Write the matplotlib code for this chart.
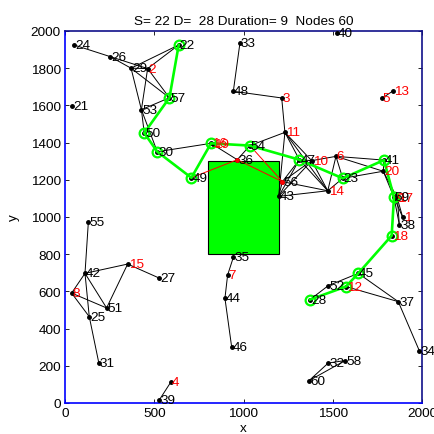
import matplotlib
matplotlib.use("Agg")
import matplotlib.pyplot as plt
from matplotlib.patches import Rectangle

plt.rcParams['font.family'] = ['Liberation Sans', 'DejaVu Sans']

node_ids = list(range(1, 61))
node_x = [1892, 463, 1214, 592, 1776, 1518, 911, 37, 1850, 1382,
          1232, 1574, 1839, 1472, 351, 818, 1862, 1830, 828, 1783,
          40, 637, 1556, 50, 136, 254, 527, 1373, 370, 517,
          190, 1475, 980, 1985, 943, 965, 1867, 1873, 528, 1524,
          1787, 112, 1197, 896, 1643, 934, 1313, 943, 708, 444,
          233, 1475, 428, 1036, 131, 1218, 585, 1569, 1843, 1367]
node_y = [998, 1798, 1640, 111, 1638, 1326, 688, 591, 1103, 1303,
          1455, 626, 1679, 1141, 747, 1396, 1100, 900, 1392, 1246,
          1595, 1925, 1208, 1925, 464, 1862, 672, 556, 1800, 1351,
          213, 215, 1935, 281, 783, 1308, 545, 959, 16, 1990,
          1306, 697, 1111, 563, 697, 299, 1308, 1676, 1211, 1452,
          511, 631, 1577, 1384, 975, 1190, 1641, 228, 1106, 120]

links = [(24, 26), (26, 29), (26, 2), (29, 2), (29, 22), (2, 22), (29, 57), (2, 57),
         (29, 53), (2, 53), (53, 57), (53, 50), (53, 30), (30, 16), (16, 36), (36, 54),
         (54, 11), (11, 43), (11, 47), (11, 10), (11, 14), (47, 56), (47, 43), (10, 56),
         (10, 43), (47, 10), (47, 14), (10, 14), (10, 6), (6, 23), (6, 14), (6, 41),
         (6, 20), (23, 14), (23, 20), (43, 14), (56, 14), (41, 20), (20, 59), (20, 17),
         (59, 1), (59, 38), (17, 38), (17, 1), (9, 17), (28, 52), (52, 45), (45, 37),
         (12, 37), (37, 34), (48, 33), (48, 3), (3, 11), (13, 5), (55, 42), (42, 15),
         (42, 8), (42, 51), (42, 25), (15, 51), (15, 27), (8, 51), (8, 25), (25, 31),
         (7, 35), (7, 44), (44, 46), (4, 39), (60, 32), (60, 58), (32, 58), (43, 56),
         (19, 16)]
red_links = [(49, 36), (36, 56), (54, 56)]
red_nodes = [36, 56]
route = [22, 57, 50, 30, 49, 16, 54, 47, 23, 41, 59, 18, 45, 12, 28]

obstacle_x = [800, 1200]
obstacle_y = [800, 1300]

title_text = "S= 22 D=  28 Duration= 9  Nodes 60"
x_ticks = [0, 500, 1000, 1500, 2000]
y_ticks = [0, 200, 400, 600, 800, 1000, 1200, 1400, 1600, 1800, 2000]

pos = {n: (x, y) for n, x, y in zip(node_ids, node_x, node_y)}

fig = plt.figure(figsize=(4.34, 4.35), dpi=100)
ax = fig.add_axes([65 / 434, 31 / 435, 357 / 434, 372 / 435])

ax.add_patch(Rectangle((obstacle_x[0], obstacle_y[0]),
                       obstacle_x[1] - obstacle_x[0], obstacle_y[1] - obstacle_y[0],
                       facecolor='#00ff00', edgecolor='black', linewidth=0.8, zorder=1))

for a, b in links:
    ax.plot([pos[a][0], pos[b][0]], [pos[a][1], pos[b][1]], color='black', lw=0.7, zorder=2)
for a, b in red_links:
    ax.plot([pos[a][0], pos[b][0]], [pos[a][1], pos[b][1]], color='red', lw=0.7, zorder=3)

ax.plot(node_x, node_y, 'o', color='black', markersize=2.5, zorder=4)
ax.plot([pos[n][0] for n in red_nodes], [pos[n][1] for n in red_nodes], 'o',
        color='red', markersize=2.5, zorder=4)

rx = [pos[n][0] for n in route]
ry = [pos[n][1] for n in route]
ax.plot(rx, ry, '-', color='#00ff00', lw=1.9, zorder=5)
ax.plot(rx, ry, 'o', markerfacecolor='none', markeredgecolor='#00ff00',
        markersize=7, markeredgewidth=1.6, zorder=6)

for n, x, y in zip(node_ids, node_x, node_y):
    ax.text(x + 5, y, str(n), color='red' if n <= 20 else 'black',
            fontsize=9.7, ha='left', va='center', zorder=7)

ax.set_xlim(0, 2000)
ax.set_ylim(0, 2000)
ax.set_xticks(x_ticks)
ax.set_yticks(y_ticks)
ax.tick_params(direction='in', length=3, width=0.6, top=True, right=True,
               labelsize=9.7, pad=3)
ax.set_title(title_text, fontsize=9.7, pad=5)
ax.set_xlabel('x', fontsize=9.7, labelpad=2)
ax.set_ylabel('y', fontsize=9.7, labelpad=8)
ax.spines['left'].set_color('#0000ff')
ax.spines['bottom'].set_color('#0000ff')
ax.spines['top'].set_color('#10108a')
ax.spines['right'].set_color('#10108a')
for s in ax.spines.values():
    s.set_linewidth(1.2)

fig.savefig('out.png', dpi=100)
